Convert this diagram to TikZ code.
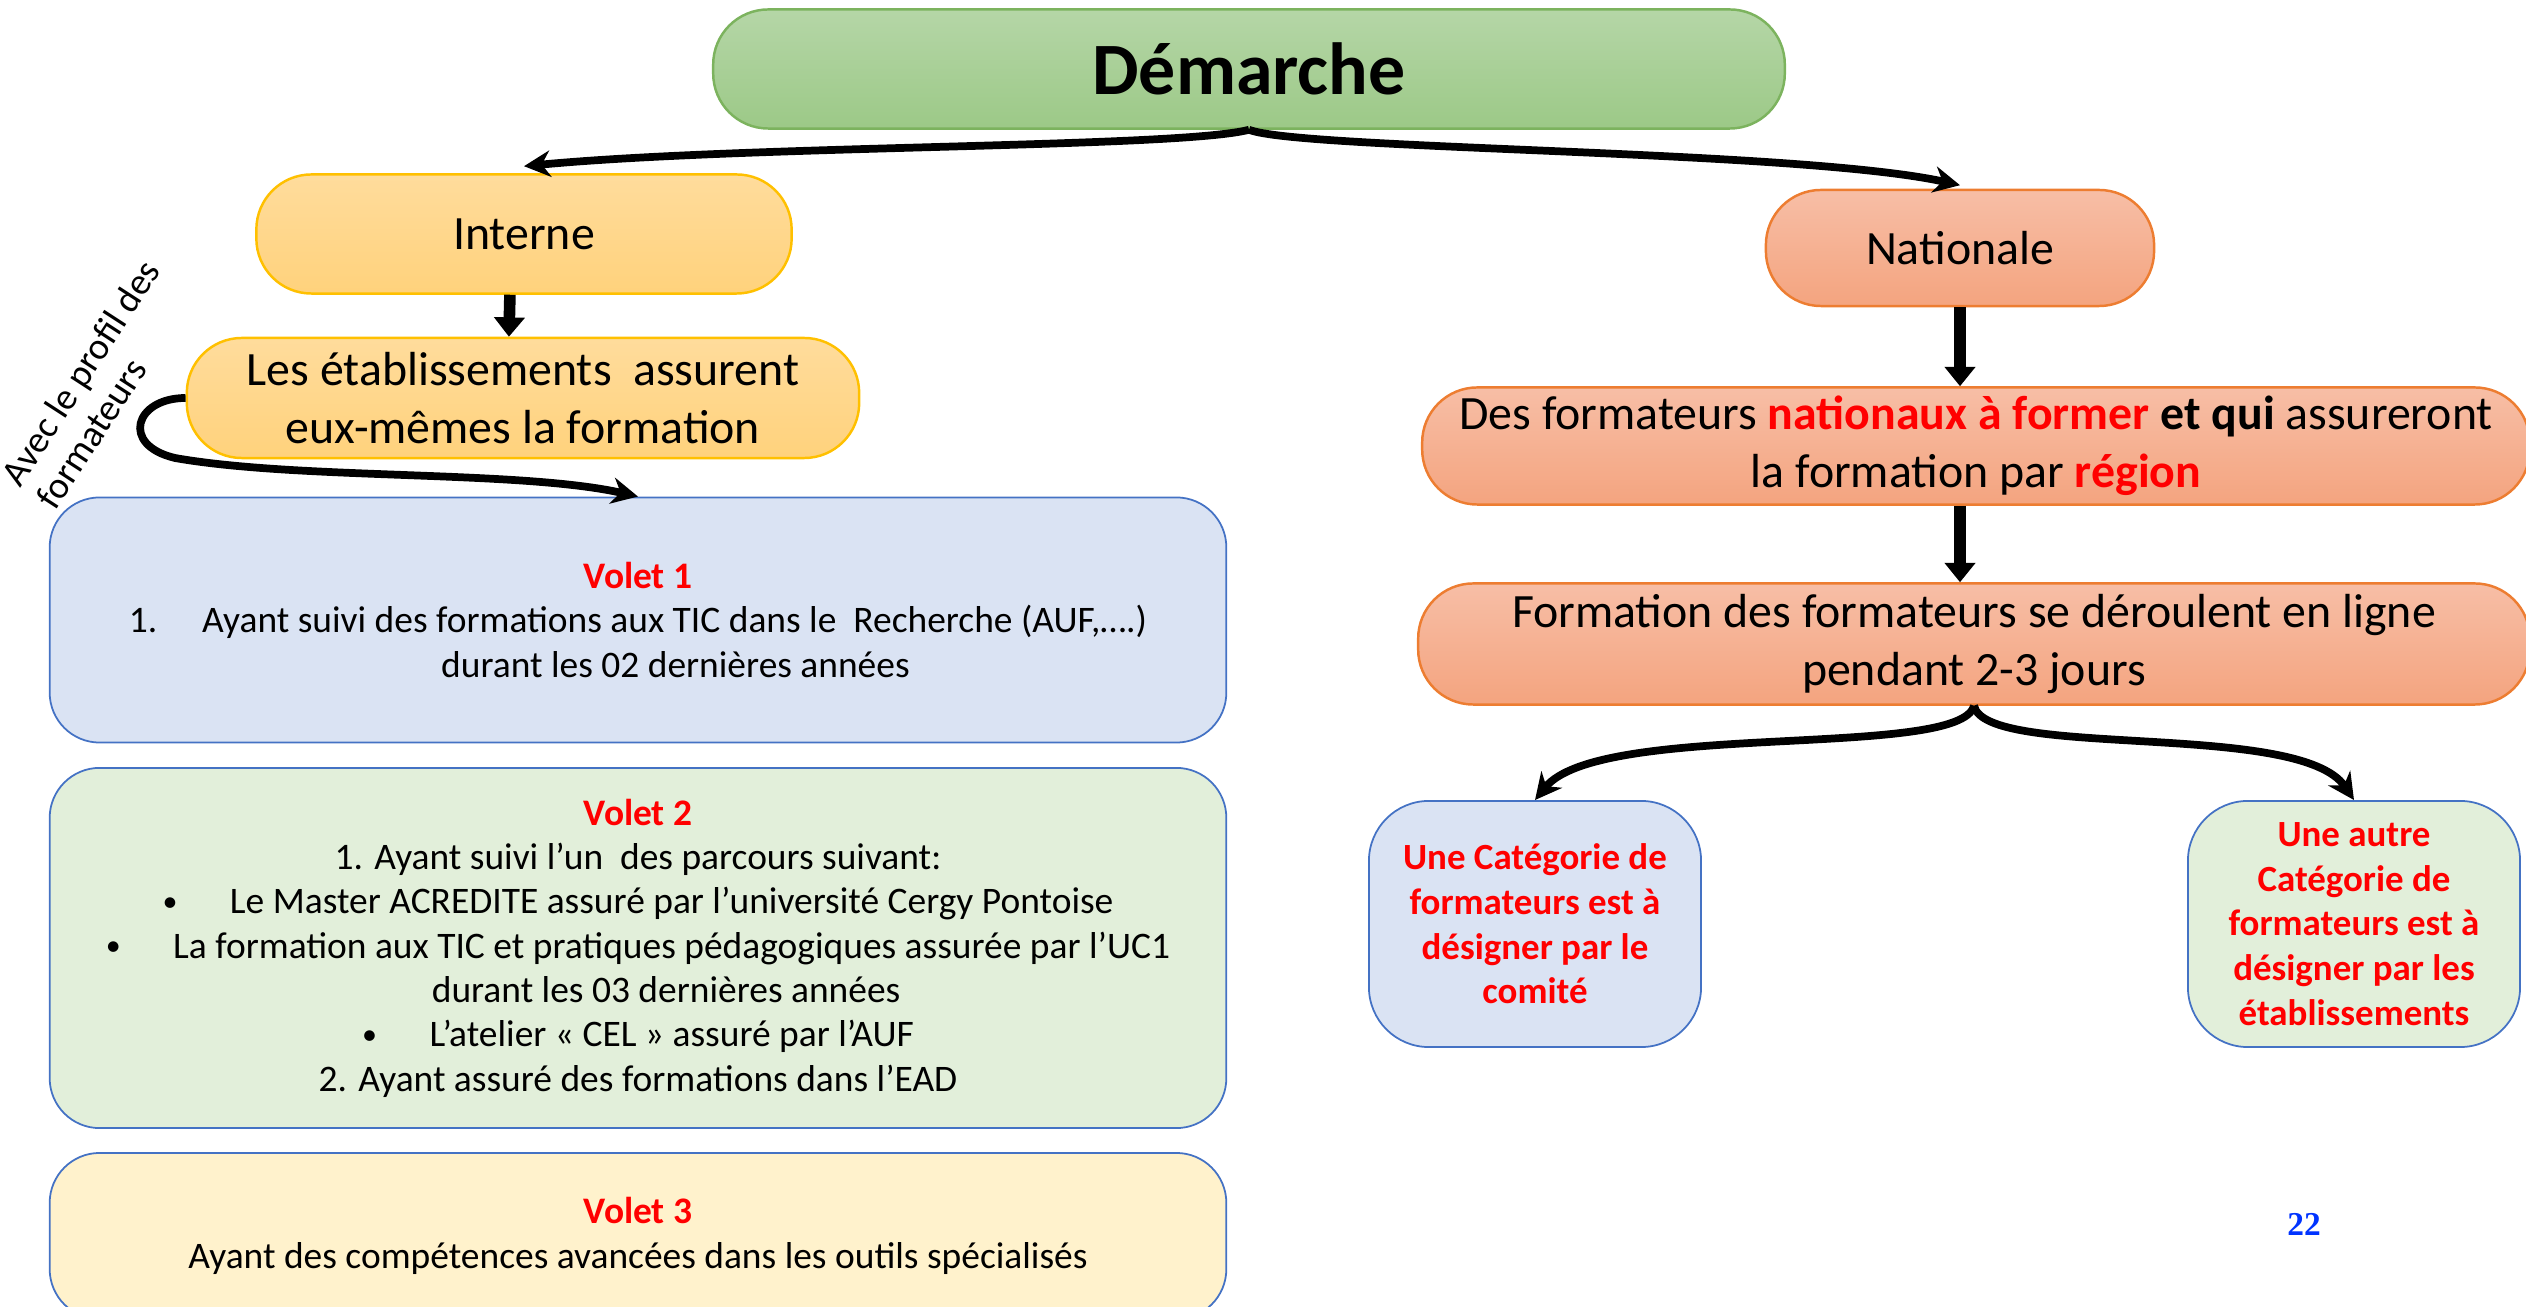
\documentclass[tikz,border=0pt]{standalone}
\usepackage{fontspec}
\setmainfont{Carlito}
\newfontfamily\numfont{Liberation Serif}
\usepackage{xcolor}
\usetikzlibrary{arrows.meta}

\definecolor{demtop}{HTML}{B5D6A7}
\definecolor{dembot}{HTML}{9CC987}
\definecolor{demline}{HTML}{7CB35E}
\definecolor{intop}{HTML}{FFDC9C}
\definecolor{inbot}{HTML}{FFD27C}
\definecolor{inline}{HTML}{FFC000}
\definecolor{natop}{HTML}{F7BEA6}
\definecolor{natbot}{HTML}{F4A47F}
\definecolor{natline}{HTML}{ED7D31}
\definecolor{boxline}{HTML}{4472C4}
\definecolor{bluefill}{HTML}{DAE3F3}
\definecolor{greenfill}{HTML}{E2EFDA}
\definecolor{yellowfill}{HTML}{FFF2CC}
\definecolor{voletred}{HTML}{FF0000}
\definecolor{pageblue}{HTML}{0033FF}
\newcommand{\voletdot}{\raisebox{0.12ex}{\scalebox{0.8}{\textbullet}}}

\begin{document}
\begin{tikzpicture}[x=0.01cm, y=-0.01cm,
    pill/.style={rectangle, rounded corners=0.55cm, align=center, inner sep=0pt, line width=0.7pt},
    greenpill/.style={pill, draw=demline, top color=demtop, bottom color=dembot},
    goldpill/.style={pill, draw=inline, top color=intop, bottom color=inbot,
        font=\fontsize{13.6}{16.5}\selectfont},
    orangepill/.style={pill, draw=natline, top color=natop, bottom color=natbot,
        font=\fontsize{13.6}{16.5}\selectfont},
    voletbox/.style={rectangle, rounded corners=0.5cm, draw=boxline, line width=0.5pt,
        align=center, minimum width=11.76cm, font=\fontsize{10.65}{12.6}\selectfont},
    catbox/.style={rectangle, rounded corners=0.6cm, draw=boxline, line width=0.5pt,
        align=center, minimum width=3.32cm, minimum height=2.46cm, text=voletred,
        font=\fontsize{10.5}{12.7}\selectfont\bfseries},
    blockarrow/.style={line width=3.3pt, -{Triangle[length=5.5pt,width=8.5pt]}},
    bendarrow/.style={line width=2.2pt, -{Stealth[length=7.5pt,width=7.5pt]}}]
\useasboundingbox (0,0) rectangle (2526,1307);
\clip (0,0) rectangle (2526,1307);

% top of the tree
\node[greenpill, minimum width=10.71cm, minimum height=1.19cm,
    font=\fontsize{21}{25}\selectfont\bfseries] (demarche) at (1249,69) {Démarche};

% left branch
\node[goldpill, minimum width=5.35cm, minimum height=1.19cm] (interne) at (524,234) {Interne};
\node[goldpill, minimum width=6.72cm, minimum height=1.20cm] (etab) at (523,398)
    {Les établissements\ \ assurent\\eux-mêmes la formation};
\node[rotate=57, align=left, font=\fontsize{10.7}{12}\selectfont] (profil) at (98,384)
    {Avec le profil des\\formateurs};

\node[voletbox, fill=bluefill, minimum height=2.45cm] (volet1) at (638,620)
    {\textcolor{voletred}{\bfseries Volet 1}\\
     1.\hspace{1.2em}Ayant suivi des formations aux TIC dans le\ \ Recherche (AUF,….)\\
     \hspace*{2em}durant les 02 dernières années};
\node[voletbox, fill=greenfill, minimum height=3.60cm] (volet2) at (638,948)
    {\textcolor{voletred}{\bfseries Volet 2}\\
     1. Ayant suivi l’un\ \ des parcours suivant:\\
     \voletdot\hspace{1.4em}Le Master ACREDITE assuré par l’université Cergy Pontoise\\
     \voletdot\hspace{1.4em}La formation aux TIC et pratiques pédagogiques assurée par l’UC1\\
     \hspace*{1.5em}durant les 03 dernières années\\
     \voletdot\hspace{1.4em}L’atelier « CEL » assuré par l’AUF\\
     2. Ayant assuré des formations dans l’EAD};
\node[voletbox, fill=yellowfill, minimum height=1.66cm] (volet3) at (638,1236)
    {\textcolor{voletred}{\bfseries Volet 3}\\
     Ayant des compétences avancées dans les outils spécialisés};

% right branch
\node[orangepill, minimum width=3.88cm, minimum height=1.16cm] (nationale) at (1960,248) {Nationale};
\node[orangepill, minimum width=11.07cm, minimum height=1.17cm] (natform) at (1976,446)
    {Des formateurs \textcolor{voletred}{\bfseries nationaux à former} \textbf{et qui} assureront\\
     la formation par \textcolor{voletred}{\bfseries région}};
\node[orangepill, minimum width=11.11cm, minimum height=1.21cm] (enligne) at (1974,644)
    {Formation des formateurs se déroulent en ligne\\pendant 2-3 jours};

\node[catbox, fill=bluefill] (comite) at (1535,924)
    {Une Catégorie de\\formateurs est à\\désigner par le\\comité};
\node[catbox, fill=greenfill] (etabcat) at (2354,924)
    {Une autre\\Catégorie de\\formateurs est à\\désigner par les\\établissements};

\node[font=\numfont\fontsize{9.5}{11}\selectfont\bfseries, text=pageblue] (pagenum) at (2304,1224) {22};

% connectors
\draw[bendarrow] (demarche.south) .. controls (1180,148) and (750,145) .. ([yshift=2pt]interne.north);
\draw[bendarrow] (demarche.south) .. controls (1300,150) and (1800,150) .. ([yshift=1pt]nationale.north);
\draw[blockarrow] ([xshift=-4pt]interne.south) -- ([xshift=-4pt]etab.north);
\draw[blockarrow] (nationale.south) -- (nationale.south |- natform.north);
\draw[blockarrow] (nationale.south |- natform.south) -- (nationale.south |- enligne.north);
\draw[bendarrow] (etab.west) .. controls (135,398) and (120,445) .. (175,458)
    .. controls (300,480) and (520,470) .. (volet1.north);
\draw[bendarrow] (enligne.south) .. controls (1960,760) and (1600,720) .. (comite.north);
\draw[bendarrow] (enligne.south) .. controls (1986,760) and (2300,720) .. (etabcat.north);
\end{tikzpicture}
\end{document}
